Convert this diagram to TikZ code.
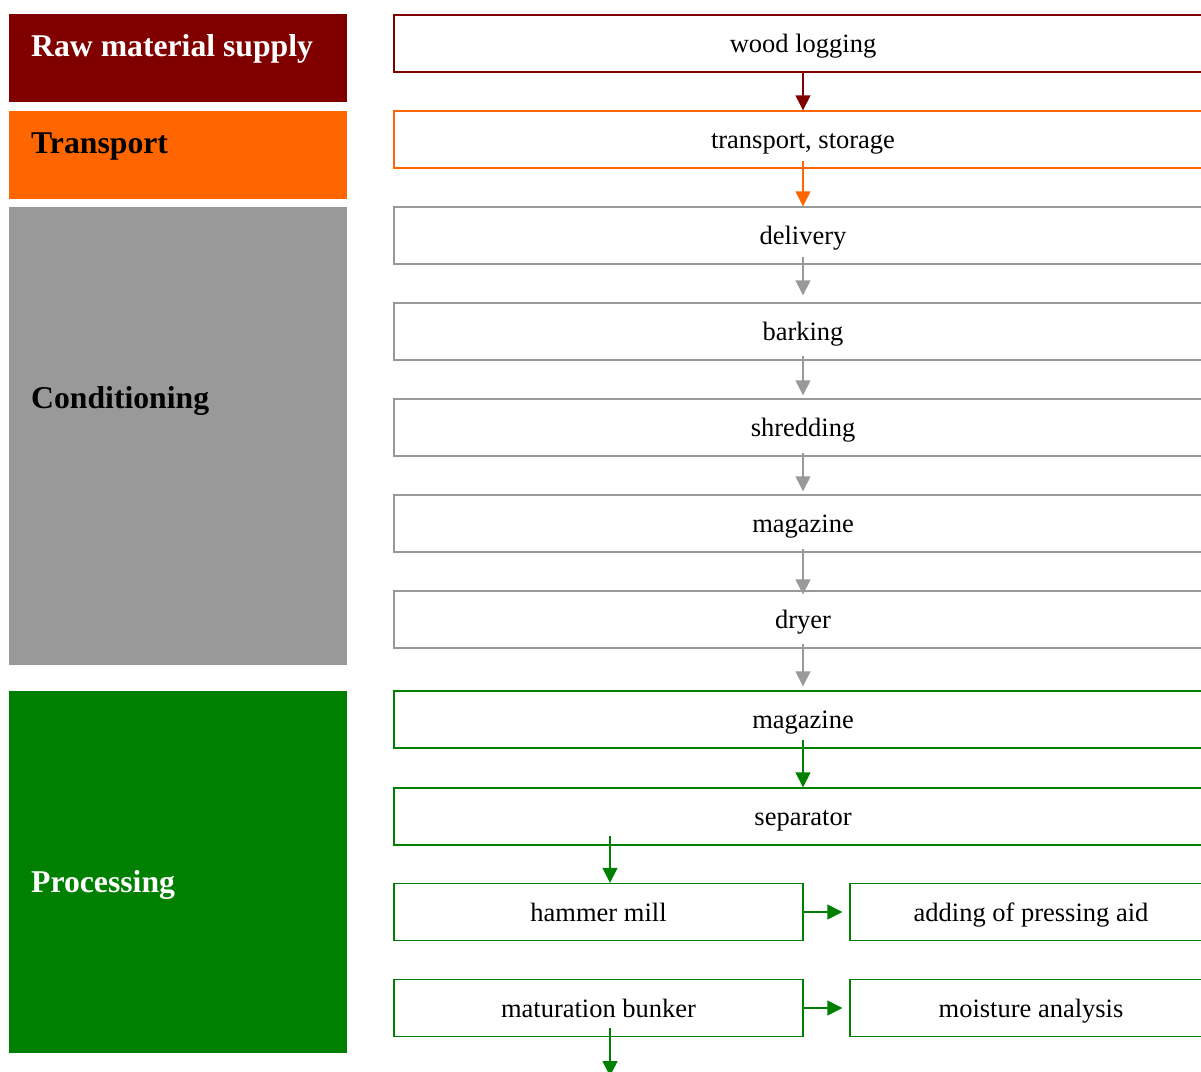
\documentclass[tikz,border=0pt]{standalone}
\usepackage{fontspec}
\setmainfont{Liberation Serif}
\usetikzlibrary{arrows.meta,calc}
\definecolor{rawred}{HTML}{800000}
\definecolor{transorange}{HTML}{FF6600}
\definecolor{condgray}{HTML}{999999}
\definecolor{procgreen}{HTML}{008000}

\begin{document}
\begin{tikzpicture}[x=1pt,y=-1pt,
  phase/.style={fill=#1, draw=none, anchor=north west, inner sep=0pt, minimum width=338pt},
  phaselabel/.style={anchor=base west, inner sep=0pt, font=\fontsize{31.7}{36}\selectfont\bfseries},
  stage/.style={draw=#1, line width=1.4pt, fill=white, inner sep=0pt, minimum height=57pt,
                text height=22pt, text depth=4pt,
                font=\fontsize{26.5}{30}\selectfont},
  wide/.style={minimum width=818pt},
  half/.style={minimum width=409pt},
  sidebox/.style={minimum width=362pt},
  flow/.style={draw=#1, line width=1.4pt, -{Triangle[width=15pt,length=15pt]}},
]
\useasboundingbox (0,0) rectangle (1201,1071);
\fill[white] (0,0) rectangle (1201,1071);
\clip (0,0) rectangle (1201,1071);

% phase bands on the left
\node[phase=rawred, minimum height=88pt] (rawband) at (9,14) {};
\node[phase=transorange, minimum height=88pt] (transband) at (9,111) {};
\node[phase=condgray, minimum height=458pt] (condband) at (9,207) {};
\node[phase=procgreen, minimum height=362pt] (procband) at (9,691) {};

\node[phaselabel, text=white] (rawlbl) at (31,56) {Raw material supply};
\node[phaselabel, text=black] (translbl) at (31,153) {Transport};
\node[phaselabel, text=black] (condlbl) at (31,408) {Conditioning};
\node[phaselabel, text=white] (proclbl) at (31,892) {Processing};

% process steps
\node[stage=rawred, wide] (wood) at (803,43.5) {wood logging};
\node[stage=transorange, wide] (trans) at (803,139.5) {transport, storage};
\node[stage=condgray, wide] (delivery) at (803,235.5) {delivery};
\node[stage=condgray, wide] (barking) at (803,331.5) {barking};
\node[stage=condgray, wide] (shredding) at (803,427.5) {shredding};
\node[stage=condgray, wide] (magA) at (803,523.5) {magazine};
\node[stage=condgray, wide] (dryer) at (803,619.5) {dryer};
\node[stage=procgreen, wide] (magB) at (803,719.5) {magazine};
\node[stage=procgreen, wide] (sep) at (803,816.5) {separator};
\node[stage=procgreen, half] (hammer) at (598.5,912) {hammer mill};
\node[stage=procgreen, sidebox] (adding) at (1031,912) {adding of pressing aid};
\node[stage=procgreen, half] (matur) at (598.5,1008) {maturation bunker};
\node[stage=procgreen, sidebox] (moist) at (1031,1008) {moisture analysis};
\coordinate (onward) at (610,1076);

% connectors
\draw[flow=rawred] (wood.south) -- (trans.north);
\draw[flow=transorange] ($(trans.south)+(0,-8)$) -- (delivery.north);
\draw[flow=condgray] ($(delivery.south)+(0,-8)$) -- ($(barking.north)+(0,-7)$);
\draw[flow=condgray] ($(barking.south)+(0,-5)$) -- ($(shredding.north)+(0,-3)$);
\draw[flow=condgray] ($(shredding.south)+(0,-4)$) -- ($(magA.north)+(0,-3)$);
\draw[flow=condgray] ($(magA.south)+(0,-4)$) -- ($(dryer.north)+(0,4)$);
\draw[flow=condgray] ($(dryer.south)+(0,-5)$) -- ($(magB.north)+(0,-4)$);
\draw[flow=procgreen] ($(magB.south)+(0,-9)$) -- (sep.north);
\draw[flow=procgreen] ($(sep.south -| hammer.north)+(11.5,-10)$) -- ($(hammer.north)+(11.5,0)$);
\draw[flow=procgreen] (hammer.east) -- ($(adding.west)+(-7,0)$);
\draw[flow=procgreen] (matur.east) -- ($(moist.west)+(-7,0)$);
\draw[flow=procgreen] ($(matur.south)+(11.5,-9)$) -- (onward);
\end{tikzpicture}
\end{document}
